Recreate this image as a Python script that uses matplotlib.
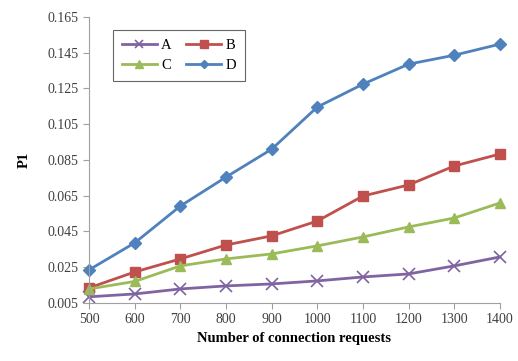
import matplotlib
matplotlib.use("Agg")
import matplotlib.pyplot as plt

plt.rcParams['font.family'] = ['Liberation Serif', 'DejaVu Serif']

requests = [500, 600, 700, 800, 900, 1000, 1100, 1200, 1300, 1400]
series_a = [0.0084, 0.0100, 0.0128, 0.0145, 0.0156, 0.0173, 0.0195, 0.0212, 0.0257, 0.0307]
series_b = [0.0134, 0.0223, 0.0296, 0.0374, 0.0425, 0.0508, 0.0648, 0.0710, 0.0816, 0.0883]
series_c = [0.0128, 0.0170, 0.0257, 0.0296, 0.0324, 0.0369, 0.0419, 0.0475, 0.0525, 0.0609]
series_d = [0.0235, 0.0386, 0.0592, 0.0754, 0.0910, 0.1146, 0.1274, 0.1386, 0.1436, 0.1498]
y_ticks = [0.005, 0.025, 0.045, 0.065, 0.085, 0.105, 0.125, 0.145, 0.165]

fig = plt.figure(figsize=(5.18, 3.61), dpi=100)
ax = fig.add_axes([0.172, 0.161, 0.793, 0.792])

la, = ax.plot(requests, series_a, color='#8064A2', marker='x', markersize=8, mew=1.2, lw=2, label='A')
lb, = ax.plot(requests, series_b, color='#C0504D', marker='s', markersize=7, lw=2, label='B')
lc, = ax.plot(requests, series_c, color='#9BBB59', marker='^', markersize=7, lw=2, label='C')
ld, = ax.plot(requests, series_d, color='#4F81BD', marker='D', markersize=6, lw=2, label='D')

ax.set_xlim(500, 1400)
ax.set_ylim(0.005, 0.165)
ax.set_xticks(requests)
ax.set_yticks(y_ticks)
ax.set_yticklabels([f"{v:.3f}" for v in y_ticks])
ax.tick_params(labelsize=10, colors='#404040', length=4, color='#a0a0a0')
for side in ('top', 'right'):
    ax.spines[side].set_visible(False)
for side in ('left', 'bottom'):
    ax.spines[side].set_color('#a0a0a0')
for line in ax.lines:
    line.set_clip_on(False)

ax.set_xlabel('Number of connection requests', fontsize=10.5, fontweight='bold', labelpad=4)
ax.set_ylabel('P1', fontsize=10.5, fontweight='bold', labelpad=12)

# two columns, rows read A B / C D
leg = ax.legend([la, lc, lb, ld], ['A', 'C', 'B', 'D'], ncol=2, loc='upper left',
                bbox_to_anchor=(0.04, 0.98), fontsize=10.5, markerscale=0.75,
                frameon=True, fancybox=False, edgecolor='#404040', handlelength=2.4,
                columnspacing=1.0, handletextpad=0.3, borderpad=0.6, labelspacing=0.5)
leg.get_frame().set_linewidth(0.8)

fig.savefig('out.png', dpi=100)
